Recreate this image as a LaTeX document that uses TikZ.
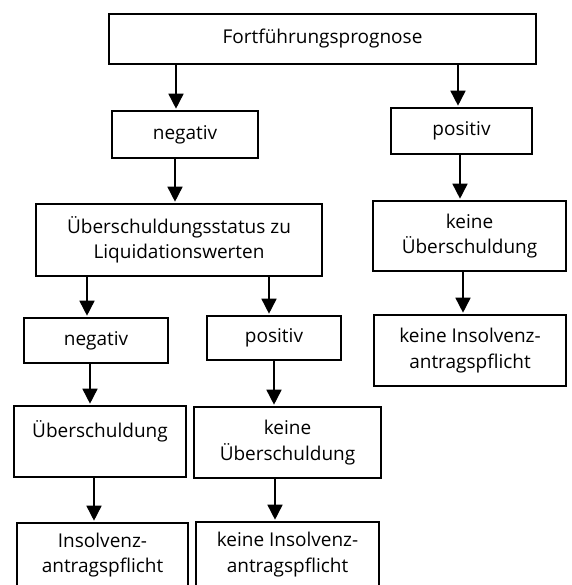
\documentclass[tikz,border=0pt]{standalone}
\usepackage{fontspec}
\setmainfont{Open Sans}
\usetikzlibrary{arrows.meta}
\newcommand\bx[6]{%
  \node[box, minimum width={(#4-#2)*1pt}, minimum height={(#5-#3)*1pt}] (#1) at ({(#2+#4)/2},{(#3+#5)/2}) {#6};}
\tikzset{
  box/.style={draw, line width=1.6pt, inner sep=0pt, align=center,
    font=\fontsize{19}{25.5}\selectfont},
  arr/.style={line width=1.6pt, -{Triangle[length=15pt,width=15pt]}, shorten >=1.5pt},
}
\begin{document}
\begin{tikzpicture}[x=1pt,y=-1pt]
\useasboundingbox (0,0) rectangle (571,585);
\bx{top}{109}{14}{536}{64}{Fortführungsprognose}
\bx{negA}{112}{111}{258}{158}{negativ}
\bx{posA}{391}{108}{532}{154}{positiv}
\bx{status}{36}{204}{322}{276}{Überschuldungsstatus zu\\Liquidationswerten}
\bx{kueR}{373}{201}{566}{271}{keine\\Überschuldung}
\bx{kiR}{374}{315}{566}{386}{keine Insolvenz-\\antragspflicht}
\bx{negB}{24}{318}{168}{363}{negativ}
\bx{posB}{207}{316}{341}{360}{positiv}
\bx{ue}{14}{406}{186}{477}{Überschuldung\\\mbox{}}
\bx{kueM}{194}{407}{381}{478}{keine\\Überschuldung}
\bx{ins}{17}{523}{188}{587}{Insolvenz-\\antragspflicht}
\bx{kiM}{196}{522}{379}{587}{keine Insolvenz-\\antragspflicht}
\draw[arr] (top.south -| 176,0) -- (negA.north -| 176,0);
\draw[arr] (top.south -| 458,0) -- (posA.north -| 458,0);
\draw[arr] (negA.south -| 175,0) -- (status.north -| 175,0);
\draw[arr] (posA.south -| 460,0) -- (kueR.north -| 460,0);
\draw[arr] (kueR.south -| 463,0) -- (kiR.north -| 463,0);
\draw[arr] (status.south -| 87,0) -- (negB.north -| 87,0);
\draw[arr] (status.south -| 269,0) -- (posB.north -| 269,0);
\draw[arr] (negB.south -| 90,0) -- (ue.north -| 90,0);
\draw[arr] (posB.south -| 274,0) -- (kueM.north -| 274,0);
\draw[arr] (ue.south -| 94,0) -- (ins.north -| 94,0);
\draw[arr] (kueM.south -| 275,0) -- (kiM.north -| 275,0);
\end{tikzpicture}
\end{document}
